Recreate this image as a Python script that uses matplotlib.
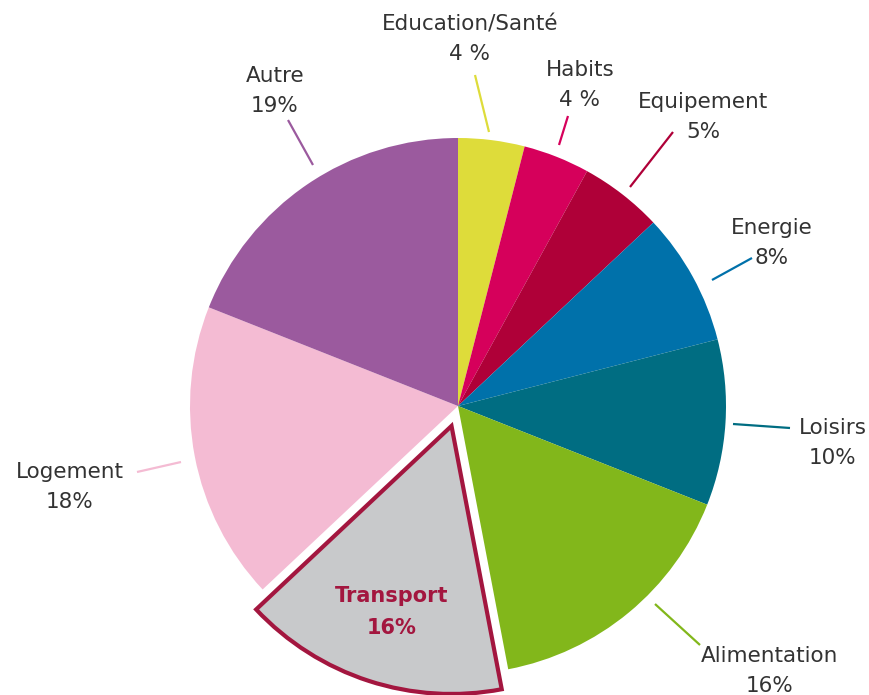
import matplotlib
matplotlib.use("Agg")
import matplotlib.pyplot as plt

categories = ["Education/Santé", "Habits", "Equipement", "Energie", "Loisirs",
              "Alimentation", "Transport", "Logement", "Autre"]
values = [4, 4, 5, 8, 10, 16, 16, 18, 19]
pct_labels = ["4 %", "4 %", "5%", "8%", "10%", "16%", "16%", "18%", "19%"]
colors = ["#DEDC3A", "#D6005B", "#AF0038", "#0071AA", "#006D82",
          "#82B71B", "#C8C9CB", "#F4BBD3", "#9B5A9E"]

W, H = 870, 695
fig = plt.figure(figsize=(W / 100, H / 100), dpi=100)
ax = fig.add_axes([0, 0, 1, 1])

cx, cy, r = 458, H - 406, 268
explode = [21 if c == "Transport" else 0 for c in categories]
wedges, _ = ax.pie(values, colors=colors, startangle=90, counterclock=False,
                   center=(cx, cy), radius=r, explode=explode,
                   wedgeprops=dict(linewidth=0), frame=True)
ax.set_xlim(0, W)
ax.set_ylim(0, H)
ax.set_aspect("equal")
ax.axis("off")

ti = categories.index("Transport")
wedges[ti].set_edgecolor("#A3163F")
wedges[ti].set_linewidth(3.0)
wedges[ti].set_joinstyle("miter")

# label layout (pixel coords, y from top): text center, leader line
layout = {
    "Education/Santé": ((470, 24), ((475, 75), (489, 132))),
    "Habits": ((580, 70), ((568, 116), (559, 145))),
    "Equipement": ((703, 102), ((673, 132), (630, 187))),
    "Energie": ((772, 228), ((752, 258), (712, 280))),
    "Loisirs": ((833, 428), ((790, 428), (733, 424))),
    "Alimentation": ((770, 656), ((700, 645), (655, 604))),
    "Logement": ((70, 472), ((137, 472), (181, 462))),
    "Autre": ((275, 76), ((288, 120), (313, 165))),
}
fs = 15.5
for i, cat in enumerate(categories):
    if cat == "Transport":
        ax.text(392, H - 596, cat, ha="center", va="center", fontsize=15,
                fontweight="bold", color="#A3163F")
        ax.text(392, H - 628, pct_labels[i], ha="center", va="center", fontsize=15,
                fontweight="bold", color="#A3163F")
        continue
    (tx, ty), ((x1, y1), (x2, y2)) = layout[cat]
    ax.text(tx, H - ty, cat, ha="center", va="center", fontsize=fs, color="#333333")
    ax.text(tx, H - ty - 30, pct_labels[i], ha="center", va="center", fontsize=fs,
            color="#333333")
    ax.plot([x1, x2], [H - y1, H - y2], color=colors[i], lw=1.6,
            solid_capstyle="butt")

fig.savefig("out.png", dpi=100)
